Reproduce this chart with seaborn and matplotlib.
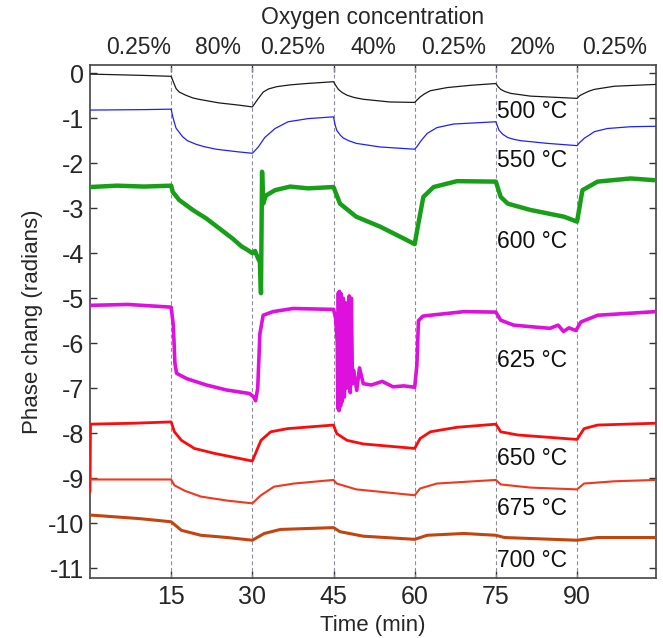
import matplotlib
matplotlib.use("Agg")
import matplotlib.pyplot as plt
import matplotlib.transforms as mtransforms
import seaborn as sns
import pandas as pd

# ---------------- data ----------------
t_500 = [0, 10, 15, 15.3, 15.9, 16.5, 17.7, 19, 20.1, 23.8, 27.5, 30, 30.3, 31, 32, 33, 34.5, 37, 40, 45,
         45.4, 45.9, 46.6, 47.5, 48.8, 50.5, 55.4, 60, 60.4, 61, 61.8, 62.9, 66, 70.3, 75, 75.4, 75.9,
         76.7, 77.8, 81.4, 90, 90.5, 91.3, 92.2, 93.2, 96.9, 104.5]
v_500 = [-0.02, -0.05, -0.07, -0.16, -0.34, -0.42, -0.49, -0.55, -0.58, -0.66, -0.71, -0.75, -0.7, -0.58,
         -0.42, -0.35, -0.3, -0.26, -0.23, -0.19, -0.27, -0.36, -0.43, -0.49, -0.54, -0.58, -0.64, -0.65,
         -0.6, -0.53, -0.46, -0.39, -0.32, -0.27, -0.23, -0.3, -0.36, -0.41, -0.45, -0.51, -0.56, -0.5,
         -0.45, -0.4, -0.36, -0.29, -0.25]

t_550 = [0, 10, 15, 15.3, 15.6, 15.9, 16.4, 17.1, 18, 19.6, 21, 23.3, 27.5, 30, 30.5, 31.1, 32.3, 34.2,
         36.6, 40.3, 45, 45.3, 45.6, 46.2, 46.8, 47.8, 49.2, 53.6, 60, 60.5, 61, 61.6, 62.3, 64.1, 67.2,
         75, 75.3, 75.6, 76.3, 77.2, 78.3, 79.6, 84.5, 90, 90.5, 91.3, 92.2, 93.2, 95.6, 99.9, 104.5]
v_550 = [-0.82, -0.81, -0.8, -0.97, -1.1, -1.22, -1.3, -1.41, -1.5, -1.58, -1.63, -1.69, -1.75, -1.78,
         -1.72, -1.64, -1.43, -1.23, -1.08, -1.01, -0.97, -1.15, -1.27, -1.37, -1.44, -1.5, -1.56, -1.64,
         -1.69, -1.62, -1.53, -1.44, -1.34, -1.21, -1.13, -1.08, -1.18, -1.27, -1.36, -1.43, -1.47, -1.5,
         -1.56, -1.61, -1.54, -1.45, -1.38, -1.3, -1.23, -1.19, -1.18]

t_600 = [0, 5, 10, 15, 15.3, 16.5, 19, 21.5, 23.9, 26.4, 28, 29, 30, 30.5, 31, 31.4, 31.6, 31.7, 31.8,
         32.0, 32.5, 34.2, 37, 40.3, 45, 46.2, 49.2, 53.6, 57.9, 60, 60.7, 61.6, 63.5, 67.8, 75,
         75.9, 77.2, 81.4, 87.6, 90, 91, 93.8, 99.9, 104.5]
v_600 = [-2.53, -2.5, -2.52, -2.5, -2.64, -2.82, -3.04, -3.23, -3.45, -3.68, -3.85, -3.92, -4.0, -3.95,
         -4.1, -4.2, -4.89, -3.5, -2.19, -2.9, -2.72, -2.6, -2.52, -2.56, -2.53, -2.9, -3.19, -3.41, -3.67,
         -3.8, -3.33, -2.75, -2.53, -2.4, -2.41, -2.75, -2.9, -3.04, -3.19, -3.3, -2.6, -2.41, -2.34, -2.38]

t_625 = [0, 7, 15, 15.4, 15.7, 16, 17.9, 21.5, 25.2, 29.5, 30.3, 30.6, 31.0, 31.4, 32.0, 33.8, 37.5, 45,
         45.4, 45.7, 45.8, 45.9, 46.0, 46.1, 46.3, 46.4, 46.6, 46.8, 47.0, 47.2, 47.4, 47.6, 47.8, 47.9,
         48.1, 48.3, 48.5, 48.7, 49.3, 49.8, 50.5, 52, 54, 56, 58, 60, 60.4, 60.7, 61.5, 62.9, 69.1, 75,
         75.9, 78.3, 82, 85, 86.5, 87.5, 88.5, 89.8, 90.7, 93.8, 104.5]
v_625 = [-5.16, -5.14, -5.2, -5.6, -6.45, -6.67, -6.79, -6.93, -7.04, -7.12, -7.2, -7.28, -7.0, -5.79,
         -5.38, -5.3, -5.23, -5.25, -5.45, -6.0, -7.45, -4.88, -7.5, -4.85, -7.4, -4.9, -7.3, -5.0, -7.2,
         -5.1, -7.0, -5.15, -6.9, -4.95, -7.1, -5.0, -6.9, -6.6, -7.05, -6.55, -6.9, -6.93, -6.85, -6.97,
         -6.95, -6.98, -6.5, -5.5, -5.4, -5.38, -5.3, -5.31, -5.49, -5.6, -5.64, -5.67, -5.6, -5.74, -5.66,
         -5.72, -5.53, -5.38, -5.3]

t_650 = [0, 0.1, 8, 15, 15.6, 16.9, 19.3, 23, 26.7, 30, 31.6, 33.4, 36.5, 45, 45.6, 47.5, 50.5, 60,
         61, 62.9, 67.8, 75, 75.9, 79, 90, 91.3, 93.8, 104.5]
v_650 = [-9.3, -7.8, -7.78, -7.75, -7.97, -8.16, -8.34, -8.45, -8.54, -8.62, -8.16, -7.97, -7.9, -7.82,
         -8.01, -8.16, -8.24, -8.34, -8.12, -7.97, -7.87, -7.8, -7.97, -8.04, -8.14, -7.9, -7.82, -7.78]

t_675 = [0, 15, 15.6, 17.5, 20.5, 25.4, 30, 31.6, 34, 37.7, 45, 45.6, 49.2, 60, 61, 64.1, 75,
         75.9, 81.4, 90, 91.3, 96.9, 104.5]
v_675 = [-9.03, -9.03, -9.16, -9.28, -9.41, -9.5, -9.56, -9.38, -9.19, -9.12, -9.04, -9.12, -9.25,
         -9.38, -9.23, -9.12, -9.04, -9.14, -9.21, -9.25, -9.12, -9.07, -9.04]

t_700 = [0, 9.2, 15, 16.9, 20.5, 25.4, 30, 32.2, 35.2, 45, 46.2, 50.5, 60, 62.3, 69.1, 75, 76.6,
         90, 93.8, 104.5]
v_700 = [-9.82, -9.9, -9.97, -10.16, -10.27, -10.32, -10.38, -10.23, -10.14, -10.1, -10.19, -10.29,
         -10.36, -10.27, -10.23, -10.27, -10.32, -10.38, -10.32, -10.32]

temps = ["500 °C", "550 °C", "600 °C", "625 °C", "650 °C", "675 °C", "700 °C"]
label_y = [-0.86, -1.93, -3.75, -6.38, -8.56, -9.67, -10.84]
switch_times = [15, 30, 45, 60, 75, 90]
oxygen_labels = ["0.25%", "80%", "0.25%", "40%", "0.25%", "20%", "0.25%"]
oxygen_pos = [8.9, 23.7, 37.4, 52.3, 67.2, 81.9, 96.9]

# ---------------- styling ----------------
sns.set_theme(style="white")
plt.rcParams["font.family"] = ["Liberation Sans", "DejaVu Sans"]

colors = ["#1a1a1a", "#2020ff", "#17a017", "#dd10dd", "#ff0a0a", "#f4361c", "#c4440f"]
widths = [0.9, 0.9, 3.2, 2.6, 2.0, 1.5, 2.2]

series = [(t_500, v_500), (t_550, v_550), (t_600, v_600), (t_625, v_625),
          (t_650, v_650), (t_675, v_675), (t_700, v_700)]

fig = plt.figure(figsize=(6.63, 6.38), dpi=100)
ax = fig.add_axes([0.1357, 0.094, 0.8530, 0.804])

for sw in switch_times:
    ax.axvline(sw, color="#8c8c9c", lw=0.8, ls=(0, (3.5, 2.5)), zorder=1)

for (tt, vv), name, c, w in zip(series, temps, colors, widths):
    df = pd.DataFrame({"t": tt, "v": vv})
    sns.lineplot(data=df, x="t", y="v", ax=ax, color=c, lw=w, sort=False,
                 estimator=None, zorder=3)

for name, y in zip(temps, label_y):
    ax.text(75.3, y, name, fontsize=16.5, ha="left", va="center", color="#111111", zorder=5)

ax.set_xlim(0, 104.5)
ax.set_ylim(-11.22, 0.18)
ax.set_xticks(switch_times)
ax.set_yticks(range(0, -12, -1))
ax.set_yticklabels([str(v) for v in range(0, -12, -1)])
ax.tick_params(axis="both", direction="in", labelsize=18, length=5, width=1,
               color="#333333", top=True, right=True, left=True, bottom=True, pad=5)
ax.tick_params(axis="y", pad=4)
for sp in ax.spines.values():
    sp.set_color("#444444")
    sp.set_linewidth(1.2)

ax.set_xlabel("Time (min)", fontsize=16, labelpad=4)
ax.set_ylabel("Phase chang (radians)", fontsize=16, labelpad=4)

trans = mtransforms.blended_transform_factory(ax.transData, ax.transAxes)
for lab, x in zip(oxygen_labels, oxygen_pos):
    ax.text(x, 1.035, lab, transform=trans, fontsize=16.5, ha="center", va="center")
ax.text(0.5, 1.092, "Oxygen concentration", transform=ax.transAxes, fontsize=16.5,
        ha="center", va="center")

fig.savefig("out.png", dpi=100)
